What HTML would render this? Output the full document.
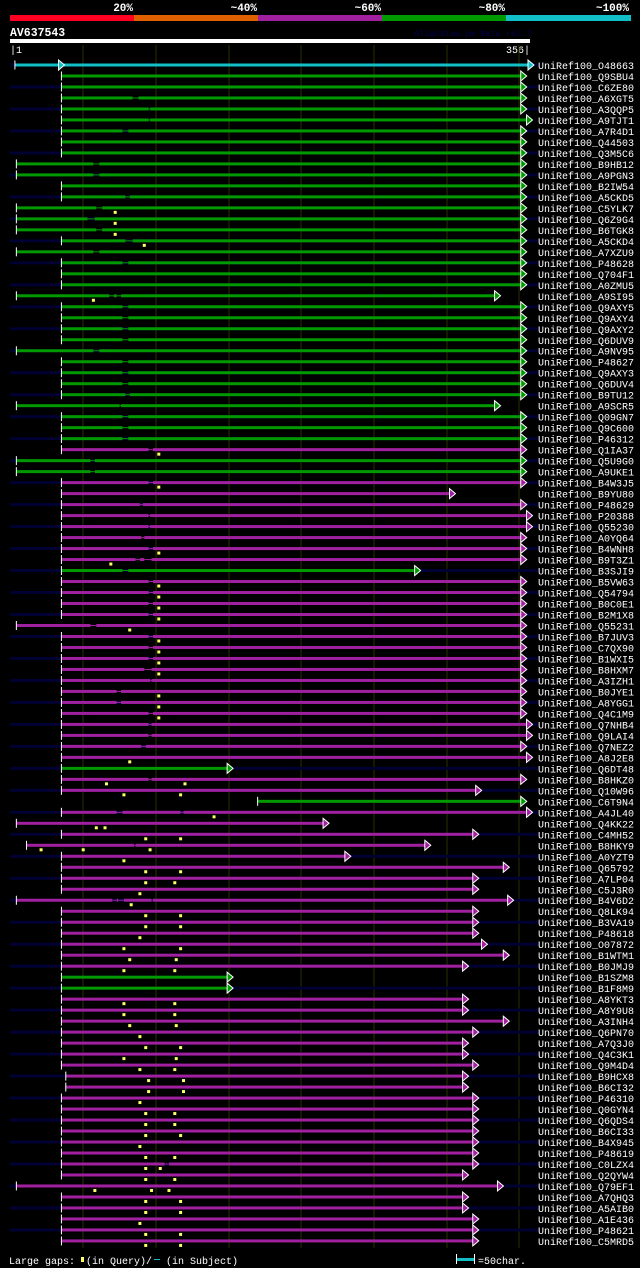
<!DOCTYPE html>
<html><head><meta charset="utf-8"><style>
html,body{margin:0;padding:0;background:#000;}
svg{display:block;}
text{font-family:"Liberation Mono",monospace;}
</style></head><body>
<svg id="chart" width="640" height="1268" viewBox="0 0 640 1268" xmlns="http://www.w3.org/2000/svg">
<rect x="0" y="0" width="640" height="1268" fill="#000"/>
<g>
<rect x="10" y="15" width="124" height="6" fill="#ff0022"/>
<rect x="134" y="15" width="124" height="6" fill="#e06000"/>
<rect x="258" y="15" width="124" height="6" fill="#a020a0"/>
<rect x="382" y="15" width="124" height="6" fill="#009900"/>
<rect x="506" y="15" width="125" height="6" fill="#11bfc8"/>
<text x="133" y="11" text-anchor="end" fill="#fff" font-size="11" font-weight="bold">20%</text>
<text x="257" y="11" text-anchor="end" fill="#fff" font-size="11" font-weight="bold">~40%</text>
<text x="381" y="11" text-anchor="end" fill="#fff" font-size="11" font-weight="bold">~60%</text>
<text x="505" y="11" text-anchor="end" fill="#fff" font-size="11" font-weight="bold">~80%</text>
<text x="629" y="11" text-anchor="end" fill="#fff" font-size="11" font-weight="bold">~100%</text>
</g>
<text x="10" y="36" fill="#fff" font-size="11.5" font-weight="bold">AV637543</text>
<text x="414" y="36" fill="#000050" font-size="8.5">AlignView.pm Beta rel.7</text>
<rect x="10" y="39" width="520" height="4" fill="#fff"/>
<text x="10" y="53" fill="#fff" font-size="10">|1</text>
<text x="530" y="53" text-anchor="end" fill="#fff" font-size="10">356|</text>
<g id="grid"></g>
<g id="rows"></g>
<g>
<text x="9" y="1264" fill="#fff" font-size="10">Large gaps:</text>
<rect x="81" y="1257" width="3" height="5" fill="#ffff66"/>
<text x="86" y="1264" fill="#fff" font-size="10">(in Query)/</text>
<rect x="154" y="1259" width="6" height="1" fill="#11bfc8"/>
<text x="166" y="1264" fill="#fff" font-size="10">(in Subject)</text>
<rect x="456" y="1254" width="1" height="10" fill="#fff"/>
<rect x="457" y="1258" width="17" height="3" fill="#11bfc8"/>
<rect x="474" y="1254" width="1" height="10" fill="#fff"/>
<text x="478" y="1264" fill="#fff" font-size="10">=50char.</text>
</g>
</svg>
<script>
const names = ["O48663","Q9SBU4","C6ZE80","A6XGT5","A3QQP5","A9TJT1","A7R4D1","Q44503","Q3M5C6","B9HB12","A9PGN3","B2IW54","A5CKD5","C5YLK7","Q6Z9G4","B6TGK8","A5CKD4","A7XZU9","P48628","Q704F1","A0ZMU5","A9SI95","Q9AXY5","Q9AXY4","Q9AXY2","Q6DUV9","A9NV95","P48627","Q9AXY3","Q6DUV4","B9TU12","A9SCR5","Q09GN7","Q9C600","P46312","Q1IA37","Q5U9G0","A9UKE1","B4W3J5","B9YU80","P48629","P20388","Q55230","A0YQ64","B4WNH8","B9T3Z1","B3SJI9","B5VW63","Q54794","B0C0E1","B2M1X8","Q55231","B7JUV3","C7QX90","B1WXI5","B8HXM7","A3IZH1","B0JYE1","A8YGG1","Q4C1M9","Q7NHB4","Q9LAI4","Q7NEZ2","A8J2E8","Q6DT48","B8HKZ0","Q10W96","C6T9N4","A4JL40","Q4KK22","C4MH52","B8HKY9","A0YZT9","Q65792","A7LP04","C5J3R0","B4V6D2","Q8LK94","B3VA19","P48618","O07872","B1WTM1","B0JMJ9","B1SZM8","B1F8M9","A8YKT3","A8Y9U8","A3INH4","Q6PN70","A7Q3J0","Q4C3K1","Q9M4D4","B9HCX8","B6CI32","P46310","Q0GYN4","Q6QDS4","B6CI33","B4X945","P48619","C0LZX4","Q2QYW4","Q79EF1","A7QHQ3","A5AIB0","A1E436","P48621","C5MRD5"];
const starts = [3,35,35,35,35,35,35,35,35,4,4,35,35,4,4,4,35,4,35,35,35,4,35,35,35,35,4,35,35,35,35,4,35,35,35,35,4,4,35,35,35,35,35,35,35,35,35,35,35,35,35,4,35,35,35,35,35,35,35,35,35,35,35,35,35,35,35,170,35,4,35,11,35,35,35,35,4,35,35,35,35,35,35,35,35,35,35,35,35,35,35,35,38,38,35,35,35,35,35,35,35,35,4,35,35,35,35,35];
const ends = [356,351,351,351,351,355,351,351,351,351,351,351,351,351,351,351,351,351,351,351,351,333,351,351,351,351,351,351,351,351,351,333,351,351,351,351,351,351,351,302,351,355,355,351,351,351,278,351,351,351,351,351,351,351,351,351,351,351,351,351,355,355,351,355,149,351,320,351,355,215,318,285,230,339,318,318,342,318,318,318,324,339,311,149,149,311,311,339,318,311,311,318,311,311,318,318,318,318,318,318,318,311,335,311,311,318,318,318];
const identity = "cggggggggg" + "gggggggggg" + "gggggggggg" + "gggggpggpp" + "ppppppgppp" + "pppppppppp" + "ppppgppgpp" + "pppppppppp" + "pppggppppp" + "pppppppppp" + "pppppppp";
const subjectGaps = [[],[],[],[[84,88]],[[95,96]],[[95,96]],[[77,81]],[],[],[[57,61]],[[57,61]],[],[[79,82]],[[59,63]],[[53,58]],[[59,63]],[[79,84]],[[57,61]],[[77,81]],[],[],[[68,71],[73,76]],[[77,81]],[[77,81]],[[77,81]],[[77,81]],[[57,61]],[[77,81]],[[77,81]],[[77,81]],[[79,82]],[[75,76]],[[77,81]],[[77,81]],[[77,81]],[[95,98]],[[55,58]],[[55,58]],[[95,98]],[],[[89,91]],[[95,96]],[[95,96]],[[90,92]],[[95,98]],[[86,89],[92,97]],[[77,81]],[[95,98]],[[95,98]],[[95,98]],[[95,98]],[[55,59]],[[95,98]],[[95,98]],[[95,98]],[[92,97]],[[96,97]],[[73,76]],[[73,76]],[[95,98]],[[95,97]],[[95,97]],[[90,93]],[],[],[[95,97]],[],[],[[73,77],[117,119]],[],[],[[85,86]],[],[],[],[],[[70,73],[74,78],[97,98]],[],[],[],[],[],[],[],[],[],[],[],[],[],[],[],[],[],[],[],[],[],[],[],[[106,109]],[],[],[],[],[],[],[]];
const queryGaps = [[],[],[],[],[],[],[],[],[],[],[],[],[],[72],[72],[72],[92],[],[],[],[],[57],[],[],[],[],[],[],[],[],[],[],[],[],[],[102],[],[],[102],[],[],[],[],[],[102],[69],[],[102],[102],[102],[102],[82],[102],[102],[102],[102],[],[102],[102],[102],[],[],[],[82],[],[66,120],[78,117],[],[140],[59,65],[93,117],[21,50,96],[78],[93,117],[93,113],[89],[83],[93,117],[93,117],[89],[78,117],[82,114],[78,113],[],[],[78,113],[78,113],[82,114],[89],[93,117],[78,114],[89,113],[95,119],[95,119],[89],[93,113],[93,113],[93,117],[89],[93,113],[93,103],[93,113],[58,97,109],[93,117],[93,117],[89],[93,117],[93,117]];
const gridTicks = [50,100,150,200,250,300,350];

const NS = "http://www.w3.org/2000/svg";
const COLORS = {c:"#11bfc8", g:"#009900", p:"#a020a0"};
function xScale(pos){ return 12 + (pos - 1) * 1.4535; }
function yScale(i){ return 65 + i * 10.99; }
function mk(tag, attrs, parent){
  const e = document.createElementNS(NS, tag);
  for (const k in attrs) e.setAttribute(k, attrs[k]);
  parent.appendChild(e);
  return e;
}
const grid = document.getElementById('grid');
gridTicks.forEach(t => {
  const l = mk('rect', {x: Math.round(xScale(t)) - 0.5, y: 45, width: 1, height: 1203, fill: '#2e2e00'}, grid);
  
  
});
const rows = document.getElementById('rows');
names.forEach((n, i) => {
  const y = yScale(i);
  const col = COLORS[identity[i]] || COLORS.p;
  const g = mk('g', {}, rows);
  
  
  if (i % 2 === 0) {
    const nv = mk('rect', {x: 10, y: y - 1.5, width: 528, height: 3, fill: '#000033'}, g);
    
    
  }
  const x0 = xScale(starts[i]), x1 = xScale(ends[i]);
  let segs = [], cur = x0;
  subjectGaps[i].forEach(gp => {
    const a = xScale(gp[0]), b = xScale(gp[1]);
    segs.push([cur, a]);
    const th = mk('rect', {x: a, y: y - 0.5, width: b - a, height: 1, fill: col}, g);
    
    
    cur = b;
  });
  segs.push([cur, x1]);
  segs.forEach(s => {
    const r = mk('rect', {x: s[0], y: y - 1.5, width: Math.max(0, s[1] - s[0]), height: 3, fill: col}, g);
    
    
  });
  const tk = mk('rect', {x: x0 - 0.5, y: y - 4.5, width: 1, height: 9, fill: '#fff'}, g);
  
  
  const tri = mk('polygon', {points: `${x1},${y-5} ${x1+6},${y} ${x1},${y+5}`, fill: col, stroke: '#fff', 'stroke-width': 1}, g);
  
  
  if (i === 0) {
    const t2 = mk('polygon', {points: `${xScale(33)},${y-5} ${xScale(33)+6},${y} ${xScale(33)},${y+5}`, fill: col, stroke: '#fff', 'stroke-width': 1}, g);
    
    
  }
  queryGaps[i].forEach(q => {
    const m = mk('rect', {x: xScale(q) - 1.5, y: y + 3, width: 3, height: 3, fill: '#ffff66'}, g);
    
    
  });
  const lb = mk('text', {x: 538, y: y + 4, fill: '#fff', 'font-size': 10}, g);
  lb.textContent = 'UniRef100_' + n;
  
  
});
</script>
</body></html>
